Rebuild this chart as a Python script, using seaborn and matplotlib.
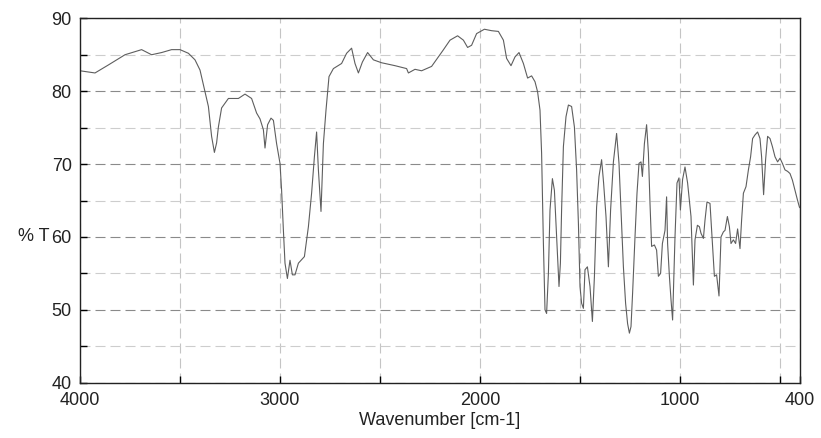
import matplotlib
matplotlib.use("Agg")
import matplotlib.pyplot as plt
import seaborn as sns
import numpy as np
import pandas as pd

# ---- data ----
wn_high = [4000, 3925, 3858, 3775, 3692, 3642, 3592, 3542, 3500, 3458, 3425, 3400,
           3375, 3358, 3342, 3328, 3317, 3308, 3292, 3258, 3208, 3175, 3142, 3117,
           3100, 3083, 3075, 3062, 3045, 3033, 3017, 3000, 2992, 2983, 2975, 2963,
           2950, 2938, 2925, 2908, 2878, 2858, 2842, 2828, 2817, 2808, 2795, 2783,
           2770, 2755, 2733, 2692, 2667, 2642, 2625, 2608, 2588, 2562, 2533, 2492,
           2425, 2367, 2358, 2325, 2292, 2242, 2208, 2185]
t_high = [82.8, 82.5, 83.6, 85.0, 85.7, 85.0, 85.3, 85.7, 85.7, 85.2, 84.3, 82.9,
          79.9, 77.9, 73.8, 71.6, 72.9, 75.1, 77.7, 79.0, 79.0, 79.6, 79.0, 77.0,
          76.2, 74.7, 72.2, 75.4, 76.3, 76.0, 72.8, 70.1, 66.4, 60.9, 56.4, 54.3,
          56.8, 54.8, 54.8, 56.4, 57.3, 61.4, 66.0, 71.0, 74.4, 69.2, 63.5, 72.8,
          77.4, 82.0, 83.1, 83.8, 85.2, 85.9, 83.8, 82.5, 84.0, 85.3, 84.3, 83.9,
          83.5, 83.1, 82.5, 83.0, 82.8, 83.4, 84.7, 85.6]

wn_mid = [2150, 2112, 2083, 2062, 2042, 2017, 1978, 1942, 1908, 1883, 1867, 1845,
          1825, 1805, 1783, 1762, 1742, 1725, 1712, 1700, 1692, 1683, 1675, 1667,
          1658, 1650, 1638, 1628, 1617, 1605, 1598, 1592, 1583, 1570, 1558, 1542,
          1528, 1517, 1508, 1500, 1492, 1483, 1475, 1463, 1450, 1438, 1428, 1417,
          1405, 1392, 1382, 1370, 1358, 1347, 1333, 1317, 1305, 1295, 1283, 1272,
          1262, 1253, 1245, 1237, 1225, 1215, 1205, 1195, 1188, 1178, 1167, 1158,
          1150, 1142, 1128, 1117, 1108, 1097, 1088, 1075, 1067, 1062, 1053, 1045,
          1037, 1025, 1015, 1005]
t_mid = [87.0, 87.6, 87.0, 86.0, 86.3, 87.9, 88.5, 88.3, 88.2, 87.0, 84.5, 83.5,
         84.7, 85.3, 83.8, 81.8, 82.1, 81.3, 79.9, 77.4, 71.5, 59.1, 50.0, 49.5,
         55.0, 63.7, 68.0, 66.4, 60.0, 53.2, 56.4, 63.7, 72.4, 76.5, 78.1, 77.9,
         75.1, 69.2, 61.9, 53.2, 50.9, 50.2, 55.5, 55.9, 53.2, 48.4, 54.5, 64.1,
         68.3, 70.6, 67.4, 62.8, 55.9, 63.7, 70.3, 74.2, 70.1, 63.7, 55.9, 50.9,
         48.1, 46.8, 47.7, 52.3, 60.0, 66.0, 70.1, 70.3, 68.3, 72.8, 75.4, 71.5,
         64.6, 58.7, 58.9, 58.2, 54.6, 55.0, 59.1, 60.9, 65.5, 59.1, 54.6, 51.4,
         48.6, 60.0, 67.4, 68.1]

wn_low = [998, 987, 975, 962, 945, 933, 925, 913, 903, 895, 883, 875, 865, 850,
          838, 828, 817, 805, 795, 783, 775, 763, 753, 745, 733, 722, 712, 700,
          692, 683, 670, 658, 647, 637, 625, 612, 600, 592, 582, 572, 562, 550,
          538, 525, 512, 500, 488, 475, 462, 450, 438, 425, 413, 403, 400]
t_low = [63.7, 67.9, 69.6, 67.4, 62.8, 53.4, 59.6, 61.6, 61.4, 60.5, 59.8, 62.3,
         64.8, 64.6, 59.1, 54.6, 54.8, 51.9, 60.0, 60.7, 60.9, 62.8, 61.4, 59.1,
         59.6, 59.1, 61.1, 58.4, 62.3, 66.0, 66.9, 69.2, 71.0, 73.5, 74.0, 74.4,
         73.5, 71.0, 65.8, 70.6, 73.8, 73.5, 72.4, 71.0, 70.3, 70.8, 70.1, 69.2,
         69.0, 68.7, 67.8, 66.4, 65.1, 64.1, 64.0]

x_major = [4000, 3000, 2000, 1000, 400]
x_major_labels = ["4000", "3000", "2000", "1000", "400"]
x_minor = [3500, 2500, 1500, 500]
y_major = [40, 50, 60, 70, 80, 90]
y_minor = [45, 55, 65, 75, 85]

df = pd.DataFrame({"wn": wn_high + wn_mid + wn_low,
                   "T": t_high + t_mid + t_low})

sns.set_theme(style="white")
plt.rcParams['font.family'] = ['Liberation Sans', 'DejaVu Sans']

fig = plt.figure(figsize=(8.21, 4.38), dpi=100)
ax = fig.add_axes([80 / 821, 1 - 382.7 / 438, 720 / 821, 364.4 / 438])

sns.lineplot(data=df, x="wn", y="T", ax=ax, color="#5e5e5e", linewidth=0.8,
             estimator=None, sort=False)

ax.set_xlim(4000, 400)
ax.set_ylim(40, 90)
ax.set_xticks(x_major)
ax.set_xticklabels(x_major_labels)
ax.set_xticks(x_minor, minor=True)
ax.set_yticks(y_major)
ax.set_yticks(y_minor, minor=True)

dash = (0, (9, 4.5))
ax.xaxis.grid(True, which="both", linestyle=dash, color="#c4c4c4", linewidth=0.8)
ax.yaxis.grid(True, which="major", linestyle=dash, color="#8a8a8a", linewidth=0.8)
ax.yaxis.grid(True, which="minor", linestyle=dash, color="#cdcdcd", linewidth=0.8)
ax.set_axisbelow(True)

ax.tick_params(axis="both", which="both", direction="in", length=5, width=1,
               color="black", labelsize=13, labelcolor="#222222",
               left=True, bottom=True, top=False, right=False)
ax.tick_params(axis="x", which="both", pad=7)
ax.tick_params(axis="y", which="both", pad=6)

for s in ax.spines.values():
    s.set_color("#222222")
    s.set_linewidth(1.0)

ax.set_xlabel("Wavenumber [cm-1]", fontsize=13, color="#222222", labelpad=2)
ax.set_ylabel("% T", fontsize=13, color="#222222", rotation=0, ha="center", va="center")
ax.yaxis.set_label_coords(-0.064, 0.4)

fig.savefig("out.png", dpi=100)
